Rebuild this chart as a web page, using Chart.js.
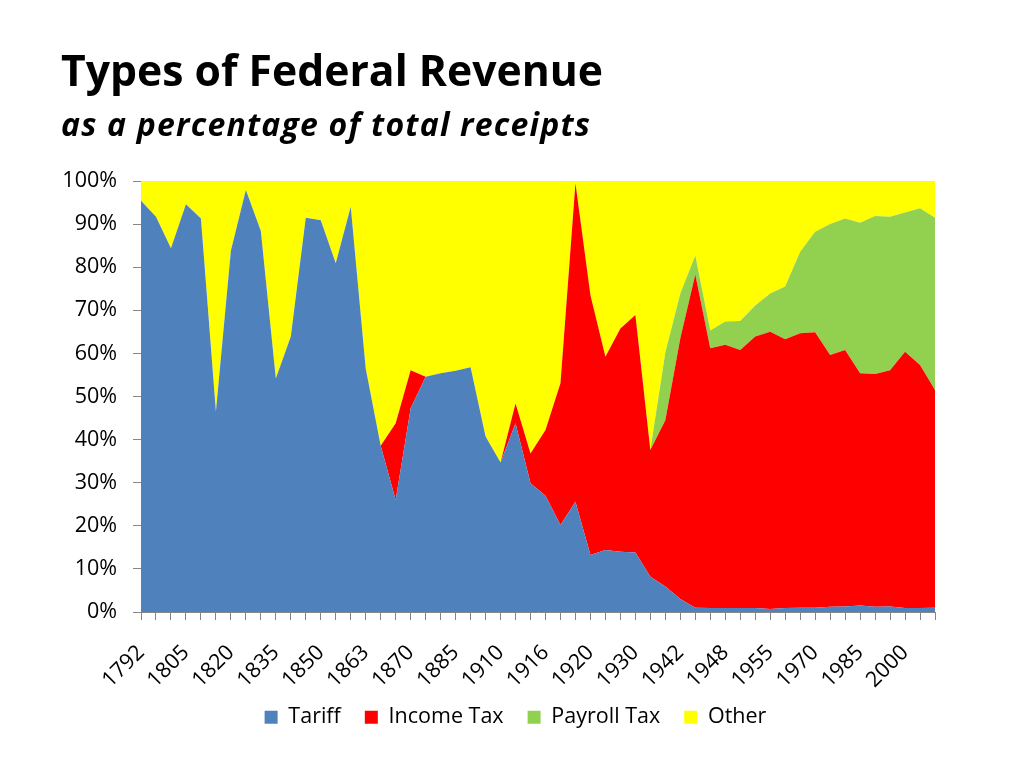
<!DOCTYPE html>
<html>
<head>
<meta charset="utf-8">
<script src="https://cdn.jsdelivr.net/npm/chart.js@4"></script>
<style>
  html, body { margin:0; padding:0; background:#fff; }
  #wrap { position:relative; width:1024px; height:768px; overflow:hidden; }
  #title { position:absolute; left:61px; top:48.5px; font-family:"Open Sans", sans-serif; font-weight:bold; font-size:42.7px; color:#000; white-space:nowrap; line-height:1; }
  #subtitle { position:absolute; left:61px; top:108.3px; font-family:"Open Sans", sans-serif; font-weight:bold; font-style:italic; font-size:32px; letter-spacing:1.2px; color:#000; white-space:nowrap; line-height:1; }
  canvas { position:absolute; left:0; top:0; }
</style>
</head>
<body>
<div id="wrap">
  <canvas id="c" width="1024" height="768"></canvas>
  <div id="title">Types of Federal Revenue</div>
  <div id="subtitle">as a percentage of total receipts</div>
</div>
<script>
const years = [1792,1795,1800,1805,1810,1815,1820,1825,1830,1835,1840,1845,1850,1855,1860,1863,1864,1866,1870,1875,1880,1885,1890,1900,1910,1912,1914,1916,1917,1918,1920,1922,1925,1930,1934,1940,1942,1944,1946,1948,1950,1952,1955,1960,1965,1970,1975,1980,1985,1990,1995,2000,2005,2010];

const tariff = [95.4,91.7,84.4,94.6,91.3,46.5,83.8,97.9,88.4,54.2,63.9,91.5,90.9,80.9,94.0,56.5,38.6,26.0,47.3,54.6,55.4,56.0,56.8,40.7,34.7,43.8,29.9,27.0,20.2,25.6,13.2,14.4,14.0,13.8,8.2,5.9,3.0,1.0,0.9,0.9,0.9,0.9,0.7,0.9,1.0,1.0,1.2,1.3,1.5,1.2,1.3,0.9,0.9,1.0];
const incomeTax = [0,0,0,0,0,0,0,0,0,0,0,0,0,0,0,0,0,17.8,8.8,0,0,0,0,0,0,4.6,6.9,15.2,32.9,73.9,60.3,44.8,51.8,55.1,29.4,38.6,60.5,77.3,60.3,61.1,59.9,63.0,64.3,62.4,63.7,63.9,58.4,59.5,53.9,54.0,54.8,59.5,56.4,50.5];
const payrollTax = [0,0,0,0,0,0,0,0,0,0,0,0,0,0,0,0,0,0,0,0,0,0,0,0,0,0,0,0,0,0,0,0,0,0,0,15.7,10.4,4.4,4.1,5.4,6.7,7.2,8.9,12.2,18.9,23.3,30.4,30.5,34.9,36.7,35.6,32.3,36.4,40.0];
const other = [4.6,8.3,15.6,5.4,8.7,53.5,16.2,2.1,11.6,45.8,36.1,8.5,9.1,19.1,6.0,43.5,61.4,56.2,43.9,45.4,44.6,44.0,43.2,59.3,65.3,51.6,63.2,57.8,46.9,0.5,26.5,40.8,34.2,31.1,62.4,39.8,26.1,17.3,34.7,32.6,32.5,28.9,26.1,24.5,16.4,11.8,10.0,8.7,9.7,8.1,8.3,7.3,6.3,8.5];

const seriesNames = ['Tariff','Income Tax','Payroll Tax','Other'];
const seriesColors = ['#4F81BD','#FF0000','#92D050','#FFFF00'];
const yTicks = [0,10,20,30,40,50,60,70,80,90,100];

const FONT = '"Open Sans", sans-serif';
const FS = 21.5;
const series = [tariff, incomeTax, payrollTax, other];

const datasets = series.map((d, i) => ({
  label: seriesNames[i],
  data: d,
  backgroundColor: seriesColors[i],
  borderColor: seriesColors[i],
  borderWidth: 0,
  pointRadius: 0,
  pointHoverRadius: 0,
  tension: 0,
  fill: i === 0 ? 'origin' : '-1'
}));

// place the legend row where the reference has it (centre x 515, text centre y 716)
const legendPlace = {
  id: 'legendPlace',
  afterLayout(chart) {
    const lg = chart.legend;
    if (!lg) return;
    const dx = 515.5 - (lg.left + lg.right) / 2;
    const dy = 682.5 - lg.top;
    lg.left += dx; lg.right += dx;
    lg.top += dy; lg.bottom += dy;
    if (lg.adjustHitBoxes) lg.adjustHitBoxes();
  }
};

new Chart(document.getElementById('c'), {
  type: 'line',
  data: { labels: years.map(String), datasets },
  plugins: [legendPlace],
  options: {
    responsive: false,
    animation: false,
    layout: { padding: { left: 0, right: 89, top: 181, bottom: 15.5 } },
    plugins: {
      legend: {
        position: 'bottom',
        labels: {
          boxWidth: 13, boxHeight: 13, padding: 24,
          color: '#000',
          font: { family: FONT, size: FS }
        }
      },
      tooltip: { enabled: false }
    },
    scales: {
      x: {
        offset: false,
        grid: { display: true, drawOnChartArea: false, drawTicks: true, tickLength: 8, color: '#868686' },
        border: { display: true, color: '#868686' },
        ticks: {
          autoSkip: false, maxRotation: 45, minRotation: 45, padding: 20,
          color: '#000', font: { family: FONT, size: FS },
          callback: (v, idx) => idx % 3 === 0 ? String(years[idx]) : ''
        },
        afterFit: (s) => { s.height = 85; }
      },
      y: {
        stacked: true,
        min: 0, max: 100,
        afterBuildTicks: (s) => { s.ticks = yTicks.map(v => ({ value: v })); },
        grid: { display: true, drawOnChartArea: false, drawTicks: true, tickLength: 8, color: '#868686' },
        border: { display: true, color: '#868686' },
        ticks: {
          padding: 16, color: '#000', font: { family: FONT, size: FS },
          callback: (v) => v + '%'
        },
        afterFit: (s) => { s.width = 141; }
      }
    }
  }
});
</script>
</body>
</html>
